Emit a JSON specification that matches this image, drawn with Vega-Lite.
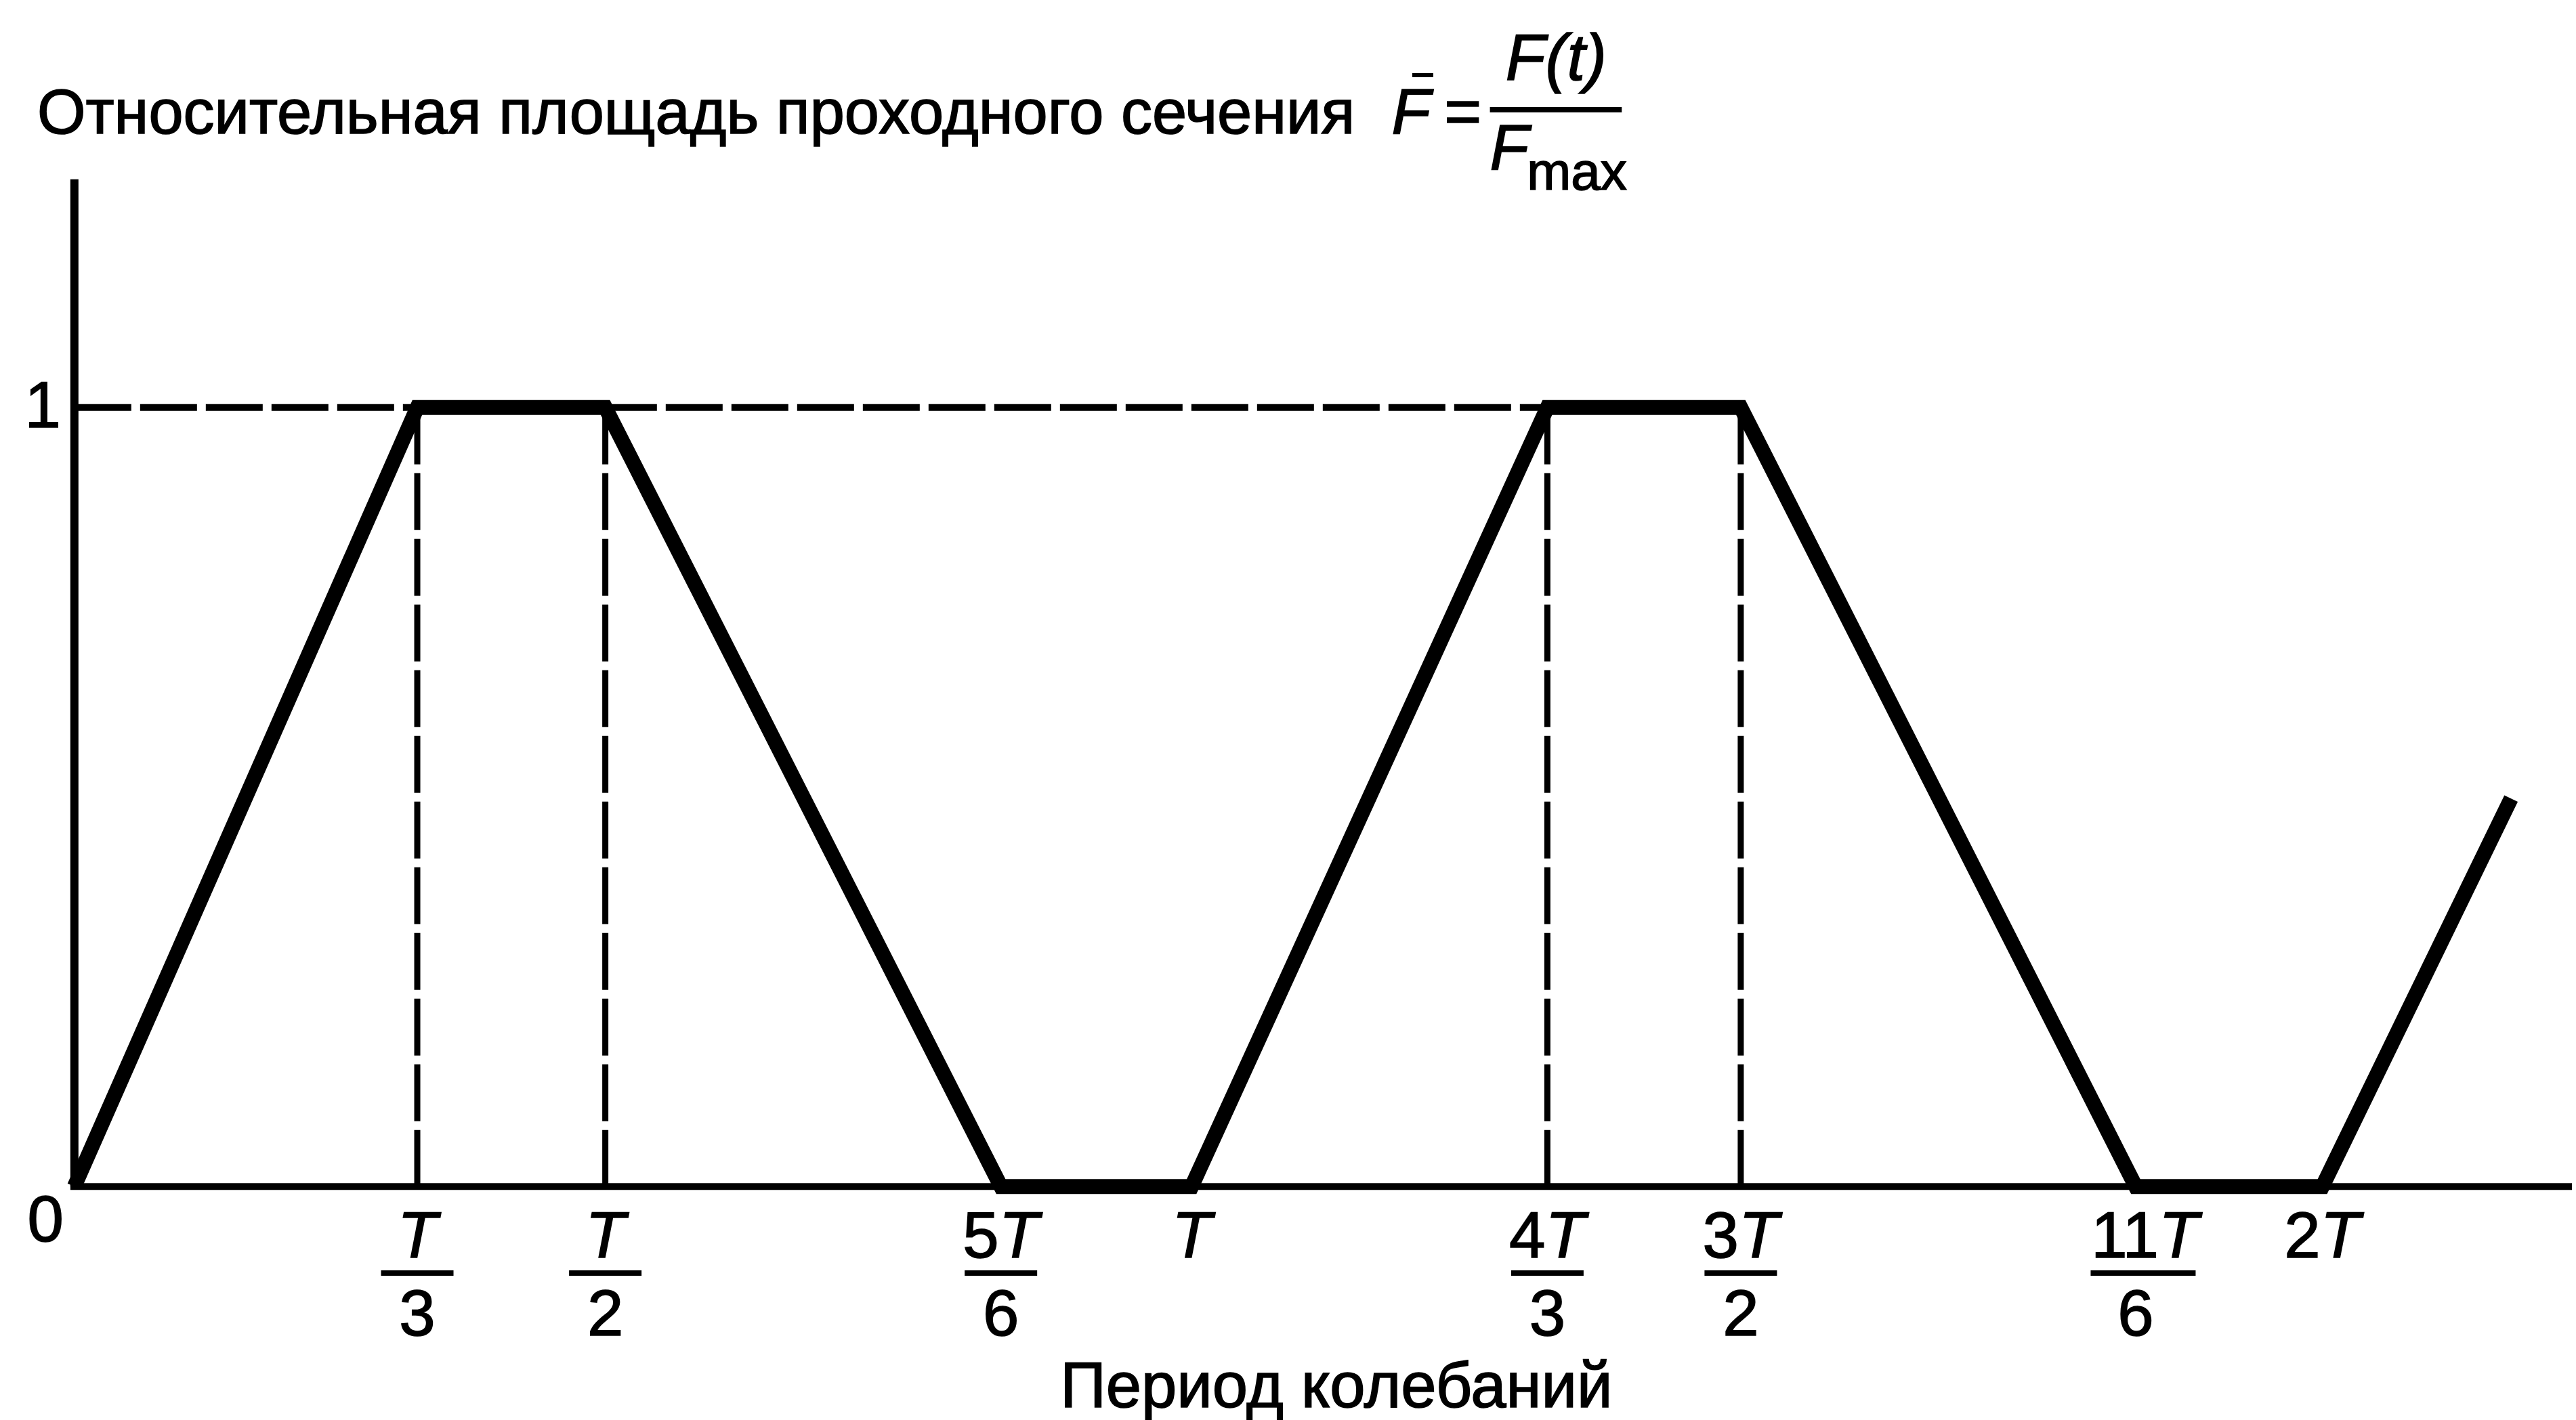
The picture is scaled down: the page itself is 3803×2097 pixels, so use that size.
{
  "$schema": "https://vega.github.io/schema/vega-lite/v6.json",
  "autosize": {"type": "fit", "contains": "padding"},
  "width": 3803,
  "height": 2097,
  "padding": 0,
  "background": "white",
  "config": {"view": {"stroke": null}, "text": {"font": "Liberation Sans, Arial, sans-serif", "fontSize": 96, "color": "black", "stroke": "black", "strokeWidth": 1.6}},
  "datasets": {
    "curve": [
      {"t": 0, "f": 0},
      {"t": 0.3069, "f": 1},
      {"t": 0.4752, "f": 1},
      {"t": 0.8293, "f": 0},
      {"t": 1.0, "f": 0},
      {"t": 1.3184, "f": 1},
      {"t": 1.4915, "f": 1},
      {"t": 1.845, "f": 0},
      {"t": 2.0121, "f": 0},
      {"t": 2.181, "f": 0.498}
    ],
    "ticks": [
      {"t": 0.3069, "coef": "", "den": "3"},
      {"t": 0.4752, "coef": "", "den": "2"},
      {"t": 0.8293, "coef": "5", "den": "6"},
      {"t": 1.0, "coef": "", "den": ""},
      {"t": 1.3184, "coef": "4", "den": "3"},
      {"t": 1.4915, "coef": "3", "den": "2"},
      {"t": 1.845, "coef": "11", "den": "6"},
      {"t": 2.0121, "coef": "2", "den": ""}
    ]
  },
  "layer": [
    {
      "data": {"values": [{}]},
      "mark": {"type": "rule", "strokeWidth": 12, "color": "black"},
      "encoding": {
        "x": {"datum": 0, "type": "quantitative", "scale": {"domain": [-0.066586, 2.235472], "nice": false, "zero": false}, "axis": null},
        "y": {"datum": 0, "type": "quantitative", "scale": {"domain": [-0.298871, 1.523023], "nice": false, "zero": false}, "axis": null},
        "y2": {"datum": 1.2928}
      }
    },
    {
      "data": {"values": [{}]},
      "mark": {"type": "rule", "strokeWidth": 10, "color": "black"},
      "encoding": {
        "x": {"datum": -0.0036, "type": "quantitative"},
        "x2": {"datum": 2.2355},
        "y": {"datum": 0, "type": "quantitative"}
      }
    },
    {
      "data": {"values": [{}]},
      "mark": {"type": "rule", "strokeWidth": 10, "color": "black", "strokeDash": [84, 13]},
      "encoding": {
        "x": {"datum": 0, "type": "quantitative"},
        "x2": {"datum": 1.3184},
        "y": {"datum": 1, "type": "quantitative"}
      }
    },
    {
      "data": {"name": "ticks"},
      "transform": [{"filter": "datum.den === '3' || datum.den === '2'"}],
      "mark": {"type": "rule", "strokeWidth": 9, "color": "black", "strokeDash": [84, 13]},
      "encoding": {
        "x": {"field": "t", "type": "quantitative"},
        "y": {"datum": 1, "type": "quantitative"},
        "y2": {"datum": 0}
      }
    },
    {
      "data": {"name": "curve"},
      "mark": {"type": "line", "strokeWidth": 22, "color": "black", "strokeJoin": "miter", "strokeCap": "butt"},
      "encoding": {
        "x": {"field": "t", "type": "quantitative"},
        "y": {"field": "f", "type": "quantitative"}
      }
    },
    {
      "data": {"values": [{}]},
      "mark": {"type": "text", "align": "right", "baseline": "middle", "dx": -20},
      "encoding": {
        "x": {"datum": 0, "type": "quantitative"},
        "y": {"datum": 1, "type": "quantitative"},
        "text": {"value": "1"}
      }
    },
    {
      "data": {"values": [{}]},
      "mark": {"type": "text", "align": "right", "baseline": "middle", "dx": -16, "dy": 52},
      "encoding": {
        "x": {"datum": 0, "type": "quantitative"},
        "y": {"datum": 0, "type": "quantitative"},
        "text": {"value": "0"}
      }
    },
    {
      "data": {"name": "ticks"},
      "transform": [{"filter": "datum.coef === ''"}],
      "mark": {"type": "text", "align": "center", "baseline": "alphabetic", "dy": 105, "fontStyle": "italic"},
      "encoding": {
        "x": {"field": "t", "type": "quantitative"},
        "y": {"datum": 0, "type": "quantitative"},
        "text": {"value": "T"}
      }
    },
    {
      "data": {"name": "ticks"},
      "transform": [{"filter": "length(datum.coef) === 1"}],
      "mark": {"type": "text", "align": "right", "baseline": "alphabetic", "dy": 105, "dx": -3},
      "encoding": {
        "x": {"field": "t", "type": "quantitative"},
        "y": {"datum": 0, "type": "quantitative"},
        "text": {"field": "coef"}
      }
    },
    {
      "data": {"name": "ticks"},
      "transform": [{"filter": "length(datum.coef) === 1"}],
      "mark": {"type": "text", "align": "left", "baseline": "alphabetic", "dy": 105, "dx": -3, "fontStyle": "italic"},
      "encoding": {
        "x": {"field": "t", "type": "quantitative"},
        "y": {"datum": 0, "type": "quantitative"},
        "text": {"value": "T"}
      }
    },
    {
      "data": {"name": "ticks"},
      "transform": [{"filter": "datum.coef === '11'"}],
      "mark": {"type": "text", "align": "right", "baseline": "alphabetic", "dy": 105, "dx": 34},
      "encoding": {
        "x": {"field": "t", "type": "quantitative"},
        "y": {"datum": 0, "type": "quantitative"},
        "text": {"field": "coef"}
      }
    },
    {
      "data": {"name": "ticks"},
      "transform": [{"filter": "datum.coef === '11'"}],
      "mark": {"type": "text", "align": "left", "baseline": "alphabetic", "dy": 105, "dx": 34, "fontStyle": "italic"},
      "encoding": {
        "x": {"field": "t", "type": "quantitative"},
        "y": {"datum": 0, "type": "quantitative"},
        "text": {"value": "T"}
      }
    },
    {
      "data": {"name": "ticks"},
      "transform": [{"filter": "datum.den !== ''"}],
      "mark": {"type": "text", "align": "center", "baseline": "alphabetic", "dy": 220},
      "encoding": {
        "x": {"field": "t", "type": "quantitative"},
        "y": {"datum": 0, "type": "quantitative"},
        "text": {"field": "den"}
      }
    },
    {
      "data": {"name": "ticks"},
      "transform": [{"filter": "datum.den !== '' && datum.coef !== '11'"}],
      "mark": {"type": "tick", "orient": "horizontal", "size": 107, "thickness": 8, "color": "black", "opacity": 1},
      "encoding": {
        "x": {"field": "t", "type": "quantitative"},
        "y": {"datum": -0.1112, "type": "quantitative"}
      }
    },
    {
      "data": {"name": "ticks"},
      "transform": [{"filter": "datum.coef === '11'"}],
      "mark": {"type": "tick", "orient": "horizontal", "size": 155, "thickness": 8, "color": "black", "opacity": 1, "xOffset": 11},
      "encoding": {
        "x": {"field": "t", "type": "quantitative"},
        "y": {"datum": -0.1112, "type": "quantitative"}
      }
    },
    {
      "data": {"values": [{}]},
      "mark": {"type": "text", "align": "left", "baseline": "alphabetic", "fontSize": 92},
      "encoding": {
        "x": {"datum": -0.0333, "type": "quantitative"},
        "y": {"datum": 1.3519, "type": "quantitative"},
        "text": {"value": "Относительная площадь проходного сечения"}
      }
    },
    {
      "data": {"values": [{}]},
      "mark": {"type": "text", "align": "left", "baseline": "alphabetic", "fontSize": 94, "fontStyle": "italic"},
      "encoding": {
        "x": {"datum": 1.179, "type": "quantitative"},
        "y": {"datum": 1.3519, "type": "quantitative"},
        "text": {"value": "F"}
      }
    },
    {
      "data": {"values": [{}]},
      "mark": {"type": "rule", "strokeWidth": 6, "color": "black"},
      "encoding": {
        "x": {"datum": 1.1975, "type": "quantitative"},
        "x2": {"datum": 1.2163},
        "y": {"datum": 1.4266, "type": "quantitative"}
      }
    },
    {
      "data": {"values": [{}]},
      "mark": {"type": "text", "align": "center", "baseline": "alphabetic", "fontSize": 94},
      "encoding": {
        "x": {"datum": 1.2428, "type": "quantitative"},
        "y": {"datum": 1.3519, "type": "quantitative"},
        "text": {"value": "="}
      }
    },
    {
      "data": {"values": [{}]},
      "mark": {"type": "text", "align": "center", "baseline": "alphabetic", "fontSize": 96, "fontStyle": "italic"},
      "encoding": {
        "x": {"datum": 1.3263, "type": "quantitative"},
        "y": {"datum": 1.4205, "type": "quantitative"},
        "text": {"value": "F(t)"}
      }
    },
    {
      "data": {"values": [{}]},
      "mark": {"type": "rule", "strokeWidth": 8, "color": "black"},
      "encoding": {
        "x": {"datum": 1.267, "type": "quantitative"},
        "x2": {"datum": 1.385},
        "y": {"datum": 1.3823, "type": "quantitative"}
      }
    },
    {
      "data": {"values": [{}]},
      "mark": {"type": "text", "align": "left", "baseline": "alphabetic", "fontSize": 94, "fontStyle": "italic"},
      "encoding": {
        "x": {"datum": 1.267, "type": "quantitative"},
        "y": {"datum": 1.3058, "type": "quantitative"},
        "text": {"value": "F"}
      }
    },
    {
      "data": {"values": [{}]},
      "mark": {"type": "text", "align": "left", "baseline": "alphabetic", "fontSize": 78},
      "encoding": {
        "x": {"datum": 1.3002, "type": "quantitative"},
        "y": {"datum": 1.2798, "type": "quantitative"},
        "text": {"value": "max"}
      }
    },
    {
      "data": {"values": [{}]},
      "mark": {"type": "text", "align": "center", "baseline": "alphabetic", "fontSize": 94},
      "encoding": {
        "x": {"datum": 1.1295, "type": "quantitative"},
        "y": {"datum": -0.2832, "type": "quantitative"},
        "text": {"value": "Период колебаний"}
      }
    }
  ]
}
